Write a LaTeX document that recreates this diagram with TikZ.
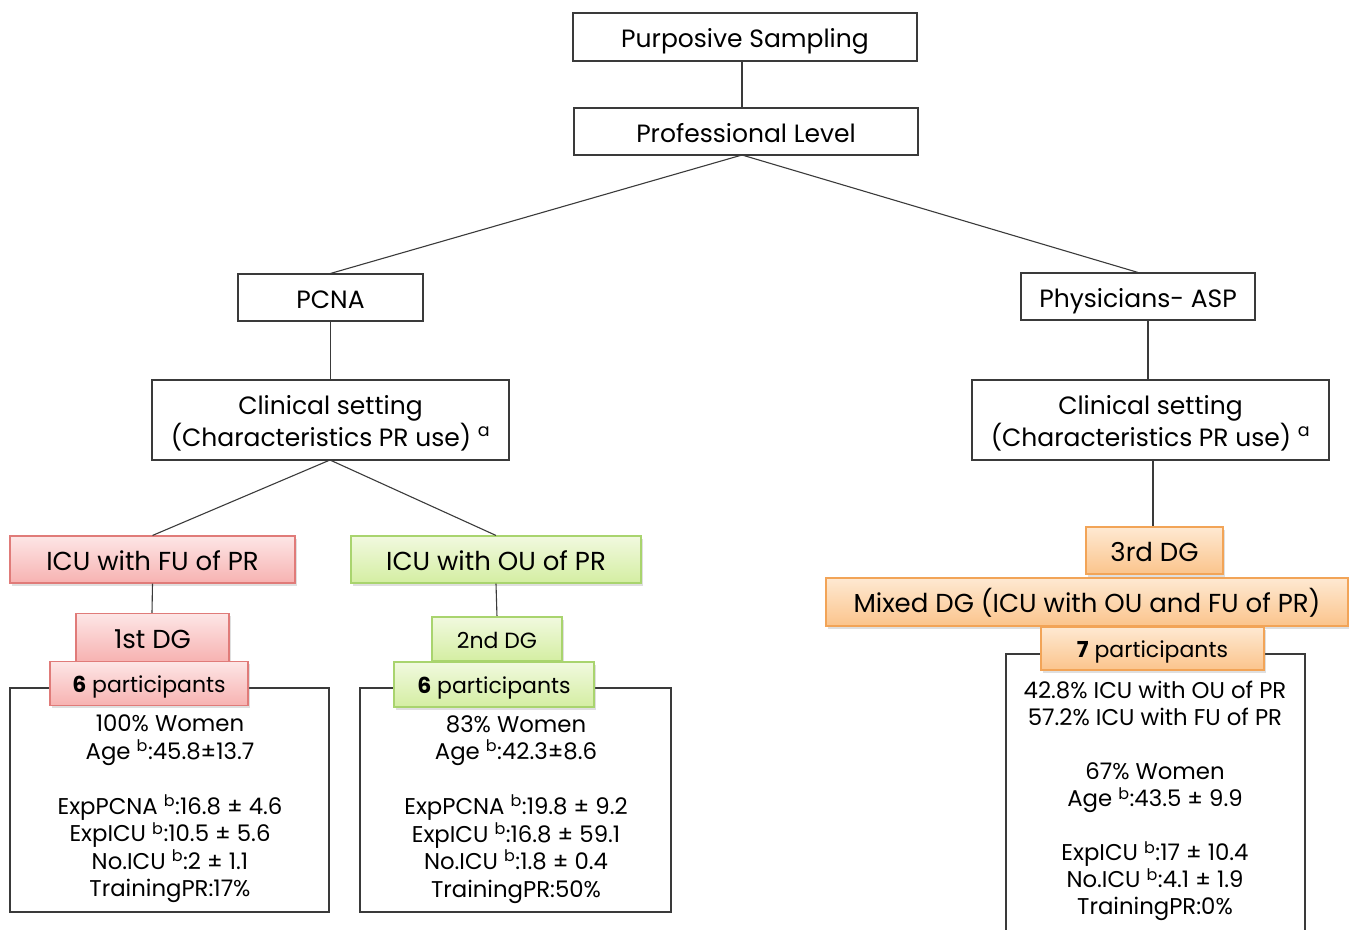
\documentclass[tikz,border=0pt]{standalone}
\usepackage{fontspec}
\setmainfont{Poppins}
\usetikzlibrary{shadows}

\definecolor{lineclr}{HTML}{3A3A3A}
\definecolor{redtop}{HTML}{FDE6E6}
\definecolor{redbot}{HTML}{F7B2B1}
\definecolor{redline}{HTML}{E07B79}
\definecolor{grntop}{HTML}{F1F9DF}
\definecolor{grnbot}{HTML}{D4EEA2}
\definecolor{grnline}{HTML}{A9D46E}
\definecolor{orgtop}{HTML}{FEE9D2}
\definecolor{orgbot}{HTML}{FBC48C}
\definecolor{orgline}{HTML}{F2A457}

\tikzset{
  plainbox/.style={draw=lineclr, line width=1.1pt, fill=white, inner sep=0pt,
    align=center, font=\fontsize{25}{30}\selectfont},
  oneline/.style={text height=21.5pt, text depth=0pt},
  twoline/.style={text height=56pt, text depth=4pt},
  colbox/.style={inner sep=0pt, align=center, line width=1.1pt,
    font=\fontsize{26}{30}\selectfont, text height=21.2pt, text depth=0pt,
    drop shadow={shadow xshift=1.5pt, shadow yshift=-2.5pt, opacity=0.25}},
  tagfont/.style={font=\fontsize{22}{26}\selectfont, text height=18.4pt, text depth=0pt},
  redbox/.style={colbox, draw=redline, top color=redtop, bottom color=redbot},
  grnbox/.style={colbox, draw=grnline, top color=grntop, bottom color=grnbot},
  orgbox/.style={colbox, draw=orgline, top color=orgtop, bottom color=orgbot},
  infobox/.style={draw=lineclr, line width=1.1pt, inner sep=0pt},
  infotext/.style={align=center, inner sep=0pt, anchor=north,
    font=\fontsize{22.8}{27.5}\selectfont},
  conn/.style={draw=lineclr, line width=1.1pt}
}

\begin{document}
\begin{tikzpicture}[x=1pt, y=-1pt]
\useasboundingbox (0,0) rectangle (1349,929);

% top of the tree
\node[plainbox, oneline, minimum width=344pt, minimum height=48pt] (ps) at (745,37) {Purposive Sampling};
\node[plainbox, oneline, minimum width=344pt, minimum height=47pt] (pl) at (746,131.5) {Professional Level};
\node[plainbox, oneline, minimum width=185pt, minimum height=47pt] (pcna) at (330.5,297.5) {PCNA};
\node[plainbox, oneline, minimum width=234pt, minimum height=47pt] (phys) at (1138,296.5) {Physicians- ASP};
\node[plainbox, twoline, minimum width=357pt, minimum height=80pt] (cs1) at (330.5,420) {Clinical setting\\(Characteristics PR use) \textsuperscript{a}};
\node[plainbox, twoline, minimum width=357pt, minimum height=80pt] (cs2) at (1150.5,420) {Clinical setting\\(Characteristics PR use) \textsuperscript{a}};

\draw[conn] (pl.north -| 742,0) -- (ps.south -| 742,0);
\draw[conn] (742,155) -- (pcna.north);
\draw[conn] (742,155) -- (phys.north);
\draw[conn] (pcna.south) -- (cs1.north);
\draw[conn] (1148,320) -- (1148,380);

% information boxes (drawn first, the participant tags sit on their top edges)
\node[infobox, minimum width=319pt, minimum height=224pt] (info1) at (169.5,800) {};
\node[infobox, minimum width=311pt, minimum height=224pt] (info2) at (515.5,800) {};
\coordinate (info3nw) at (1006,654);
\coordinate (info3ne) at (1305,654);
\draw[conn] (1006,935) -- (info3nw) -- (info3ne) -- (1305,935);

% left branch
\node[redbox, minimum width=285pt, minimum height=47pt] (icufu) at (152.5,559.5) {ICU with FU of PR};
\node[grnbox, minimum width=290pt, minimum height=47pt] (icuou) at (496,559.5) {ICU with OU of PR};
\draw[conn] (330,460) -- (icufu.north);
\draw[conn] (330,460) -- (icuou.north);

\draw[conn] (icufu.south) -- (152,613);
\draw[conn] (icuou.south) -- (497,617);

\node[redbox, minimum width=153pt, minimum height=48pt] (dg1) at (152.5,637.5) {1st DG};
\node[redbox, tagfont, minimum width=198pt, minimum height=44pt] (p1) at (149,683.5) {\textbf{6} participants};
\node[grnbox, tagfont, minimum width=130pt, minimum height=44pt] (dg2) at (497,639) {2nd DG};
\node[grnbox, tagfont, minimum width=200pt, minimum height=45pt] (p2) at (494,684.5) {\textbf{6} participants};

% right branch
\draw[conn] (1153,460) -- (1153,527);
\node[orgbox, minimum width=137pt, minimum height=47pt] (dg3) at (1154.5,550.5) {3rd DG};
\node[orgbox, minimum width=522pt, minimum height=48pt] (mixed) at (1087,602) {Mixed DG (ICU with OU and FU of PR)};
\node[orgbox, tagfont, minimum width=223pt, minimum height=43pt] (p3) at (1152.5,648.5) {\textbf{7} participants};

% group details
\node[infotext] (t1) at (170,715) {100\% Women\\Age \textsuperscript{b}:45.8±13.7\\[27.5pt]ExpPCNA \textsuperscript{b}:16.8 ± 4.6\\ExpICU \textsuperscript{b}:10.5 ± 5.6\\No.ICU \textsuperscript{b}:2 ± 1.1\\TrainingPR:17\%};
\node[infotext] (t2) at (516,715) {83\% Women\\Age \textsuperscript{b}:42.3±8.6\\[27.5pt]ExpPCNA \textsuperscript{b}:19.8 ± 9.2\\ExpICU \textsuperscript{b}:16.8 ± 59.1\\No.ICU \textsuperscript{b}:1.8 ± 0.4\\TrainingPR:50\%};
\node[infotext, font=\fontsize{22.8}{27}\selectfont] (t3) at (1155,681) {42.8\% ICU with OU of PR\\57.2\% ICU with FU of PR\\[27pt]67\% Women\\Age \textsuperscript{b}:43.5 ± 9.9\\[27pt]ExpICU \textsuperscript{b}:17 ± 10.4\\No.ICU \textsuperscript{b}:4.1 ± 1.9\\TrainingPR:0\%};
\end{tikzpicture}
\end{document}
